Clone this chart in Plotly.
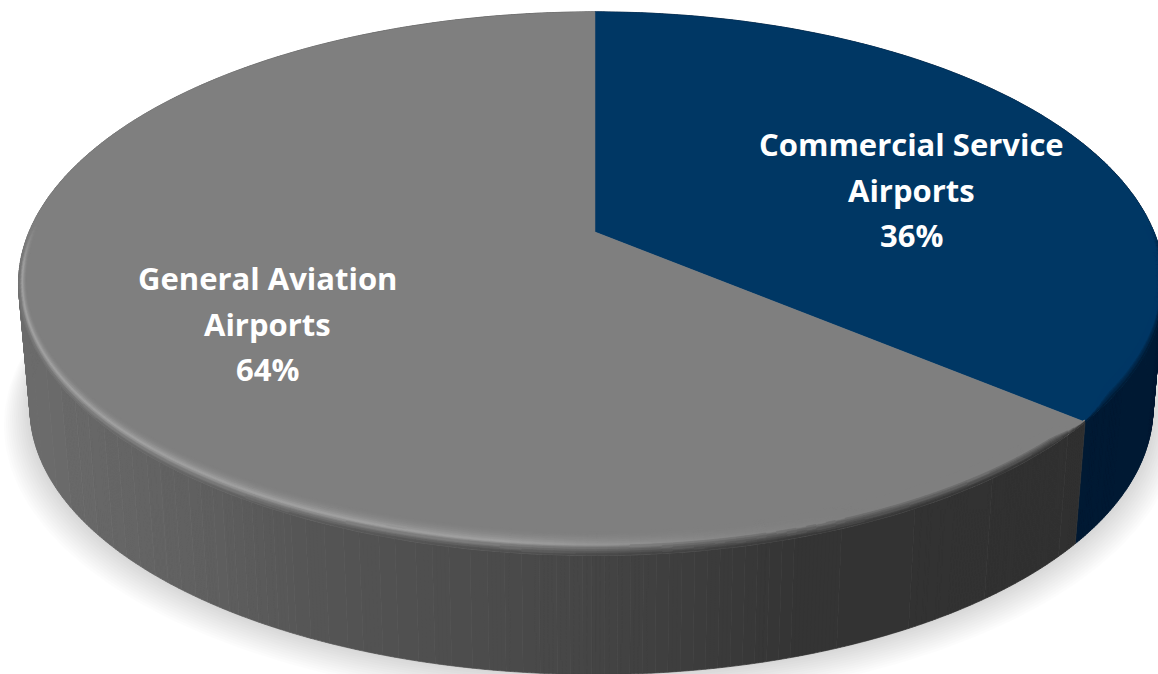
import numpy as np
import plotly.graph_objects as go

# Shares of airports by type
categories = ["Commercial Service Airports", "General Aviation Airports"]
label_lines = [["Commercial Service", "Airports"], ["General Aviation", "Airports"]]
shares = [36, 64]

WIDTH, HEIGHT = 1158, 674
APEX_X, APEX_Y = 595.0, 232.0
SCALE_LEFT, SCALE_RIGHT, SCALE_Y, TILT = 566.0, 559.0, 262.0, 0.19
DEPTH, BASE_SCALE = 125.5, 0.98

FACE = {0: (0, 55, 100), 1: (127, 127, 127)}
LABEL_POS = {0: (911, 144), 1: (267, 278)}
LINE_STEP = 45.5


def disc(theta, r=1.0):
    """Perspective projection of a polar point on the pie's top face (theta clockwise from 12 o'clock)."""
    u, v = r * np.sin(theta), r * np.cos(theta)
    w = 1 + TILT * v
    sx = np.where(u >= 0, SCALE_RIGHT, SCALE_LEFT)
    return APEX_X + sx * u / w, APEX_Y - SCALE_Y * v / w


def base(theta):
    x, y = disc(theta)
    return APEX_X + BASE_SCALE * (x - APEX_X), APEX_Y + BASE_SCALE * (y - APEX_Y) + DEPTH


def bevel_inner(theta):
    x, y = disc(theta)
    ys = np.where(y > APEX_Y, 0.925, 1.0)
    return APEX_X + 0.986 * (x - APEX_X), APEX_Y + ys * (y - APEX_Y)


def side_color(i, x):
    if i == 0:
        return (0, 26, 51)
    g = float(np.interp(x, [30, 200, 300, 550, 800, 1100], [108, 96, 86, 72, 52, 48]))
    return (g, g, g)


def lerp(a, b, t):
    return tuple(p + (q - p) * t for p, q in zip(a, b))


class PolyBins:
    """Collects small polygons by quantised colour so each colour becomes a single trace."""

    def __init__(self):
        self.bins = {}

    def add(self, xs, ys, color):
        key = tuple(int(round(c)) for c in color)
        bx, by = self.bins.setdefault(key, ([], []))
        bx.extend(list(xs) + [xs[0], None])
        by.extend(list(ys) + [ys[0], None])

    def traces(self):
        out = []
        for c, (xs, ys) in self.bins.items():
            col = f"rgb({c[0]},{c[1]},{c[2]})"
            out.append(go.Scatter(x=xs, y=ys, mode="lines", fill="toself", fillcolor=col,
                                  line=dict(color=col, width=0.7), hoverinfo="skip", showlegend=False))
        return out


fractions = np.cumsum([0] + shares) / sum(shares)
edges = 2 * np.pi * fractions
fig = go.Figure()

# Soft drop shadow hugging the base
all_theta = np.linspace(0, 2 * np.pi, 361)
bx, by = base(all_theta)
for grow in np.arange(26, 0, -2):
    k = 1 + grow / 560
    fig.add_trace(go.Scatter(x=APEX_X + k * (bx - APEX_X), y=by + grow * 0.35 + (k - 1) * (by - APEX_Y),
                             mode="lines", fill="toself", fillcolor="rgba(0,0,0,0.013)",
                             line=dict(width=0), hoverinfo="skip", showlegend=False))

# Side wall: narrow slats shaded by horizontal position
walls = PolyBins()
for i in range(len(shares)):
    th = np.linspace(edges[i], edges[i + 1], int(shares[i] * 10) + 2)
    for a, b in zip(th[:-1], th[1:]):
        xa, ya = disc(a)
        xb, yb = disc(b)
        xc, yc = base(b)
        xd, yd = base(a)
        walls.add([xa, xb, xc, xd], [ya, yb, yc, yd], side_color(i, (xa + xb + xc + xd) / 4))
fig.add_traces(walls.traces())

# Flat top faces
for i in range(len(shares)):
    th = np.linspace(edges[i], edges[i + 1], 200)
    x, y = disc(th)
    col = "rgb(%d,%d,%d)" % FACE[i]
    fig.add_trace(go.Scatter(x=[APEX_X, *x, APEX_X], y=[APEX_Y, *y, APEX_Y], mode="lines", fill="toself",
                             fillcolor=col, line=dict(color=col, width=0.5), hoverinfo="skip", showlegend=False))

# Rounded bevel along the front rim, blending face to wall with a highlight on the lit side
bevel = PolyBins()
steps = np.linspace(0, 1, 13)
taper_span = np.radians(5)
for i in range(len(shares)):
    th = np.linspace(edges[i], edges[i + 1], int(shares[i] * 4) + 2)
    for a, b in zip(th[:-1], th[1:]):
        m = (a + b) / 2
        front = float(np.clip(-np.cos(m) * 6 + 0.2, 0, 1))
        if front <= 0:
            continue
        ends = np.array([a, b])
        xo, yo = disc(ends)
        xi, yi = bevel_inner(ends)
        # Narrow the bevel as it reaches the cut between the two slices
        near = np.minimum(np.abs(ends - edges[1]), np.abs(ends - (edges[1] + 2 * np.pi)))
        span = np.clip(near / taper_span, 0.12, 1)
        xi, yi = xo + (xi - xo) * span, yo + (yi - yo) * span
        xm = (xo[0] + xo[1]) / 2
        lift = 0 if i == 0 else float(np.interp(xm, [30, 500, 720, 850], [34, 32, 8, 0]))
        face = FACE[i]
        hi = tuple(c + lift for c in face)
        wall = side_color(i, xm)
        for t0, t1 in zip(steps[:-1], steps[1:]):
            t = (t0 + t1) / 2
            if t < 0.55:
                col = lerp(face, hi, (t / 0.55) ** 2)
            else:
                col = lerp(hi, wall, ((t - 0.55) / 0.45) ** 0.8)
            col = lerp(face, col, front)
            xs = [xi[0] + (xo[0] - xi[0]) * t0, xi[1] + (xo[1] - xi[1]) * t0,
                  xi[1] + (xo[1] - xi[1]) * t1, xi[0] + (xo[0] - xi[0]) * t1]
            ys = [yi[0] + (yo[0] - yi[0]) * t0, yi[1] + (yo[1] - yi[1]) * t0,
                  yi[1] + (yo[1] - yi[1]) * t1, yi[0] + (yo[0] - yi[0]) * t1]
            bevel.add(xs, ys, col)
fig.add_traces(bevel.traces())

# Slice labels, one annotation per line
annotations = []
for i, lines in enumerate(label_lines):
    cx, cy = LABEL_POS[i]
    for n, line in enumerate(lines + [f"{shares[i]}%"]):
        annotations.append(dict(x=cx, y=cy + n * LINE_STEP, text=line, showarrow=False, xanchor="center",
                                yanchor="middle", font=dict(family="Open Sans", size=31, color="white", weight="bold")))

fig.update_layout(
    width=WIDTH, height=HEIGHT, margin=dict(l=0, r=0, t=0, b=0),
    paper_bgcolor="white", plot_bgcolor="white", showlegend=False,
    xaxis=dict(range=[0, WIDTH], visible=False, fixedrange=True),
    yaxis=dict(range=[HEIGHT, 0], visible=False, fixedrange=True),
    annotations=annotations,
)
fig.write_html("out.html", config=dict(displayModeBar=False))
